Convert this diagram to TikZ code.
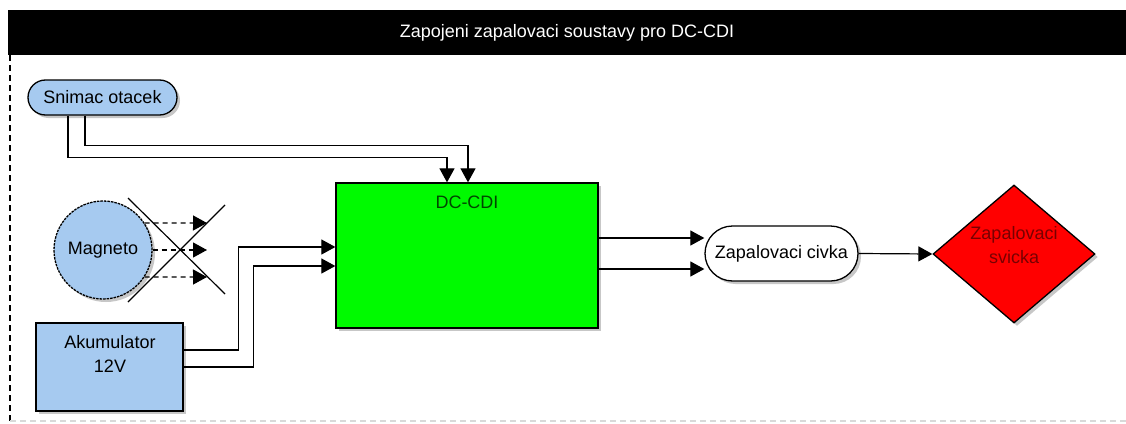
\documentclass[tikz,border=0pt]{standalone}
\usepackage{fontspec}
\setmainfont{Liberation Sans}
\usepackage{tikz}
\usetikzlibrary{arrows.meta,positioning,shapes.geometric,shapes.misc,shadows}
\usepackage{xcolor}
\definecolor{zsblue}{RGB}{166,202,240}
\definecolor{zsgreen}{RGB}{0,250,0}
\definecolor{zsred}{RGB}{255,0,0}
\definecolor{zsdkred}{RGB}{120,0,0}
\definecolor{zsdkgreen}{RGB}{0,70,0}
\tikzset{
  zsshadow/.style={drop shadow={shadow xshift=3pt, shadow yshift=-3pt, fill=black, opacity=0.22}},
  zsbox/.style={draw, rectangle, line width=1.3pt, inner sep=0pt, zsshadow},
  zspill/.style={draw, rounded rectangle, line width=1.3pt, inner sep=0pt, zsshadow},
  zsround/.style={draw, circle, line width=1.3pt, inner sep=0pt, dash pattern=on 2.5pt off 1pt, zsshadow},
  zsdiam/.style={draw, diamond, line width=1.3pt, inner sep=0pt, zsshadow},
  zstitle/.style={fill=black, text=white, inner sep=0pt},
  zslabel/.style={align=center, inner sep=0pt},
  zsarrow/.style={-{Triangle[length=14pt,width=15pt]}, line width=1.2pt},
  zsdarrow/.style={zsarrow, dash pattern=on 5pt off 4pt},
}

\begin{document}
\begin{tikzpicture}[x=1pt, y=-1pt, every node/.style={font=\fontsize{18}{24}\selectfont}]
  \useasboundingbox (0,0) rectangle (1126,423);
  % frame
  \node[zstitle, minimum width=1118pt, minimum height=45pt] (title) at (567,32.5) {Zapojeni zapalovaci soustavy pro DC-CDI};
  \draw[line width=1.5pt, dash pattern=on 6pt off 4pt] (10,55) -- (10,423);
  \draw[black!15, line width=1.5pt, dash pattern=on 6pt off 4pt] (10,421) -- (1126,421);

  % blocks
  \node[zspill, fill=zsblue, minimum width=149pt, minimum height=35pt] (sn) at (102.5,97.5) {Snimac otacek};
  \node[zsround, fill=zsblue, minimum size=98pt] (mag) at (103,250) {Magneto};
  \node[zsbox, fill=zsblue, minimum width=147pt, minimum height=88pt] (aku) at (109.5,367) {};
  \node[zslabel] (akut) at (110,354) {Akumulator\\12V};
  \node[zsbox, fill=zsgreen, minimum width=262pt, minimum height=145pt] (dc) at (467,255.5) {};
  \node[zslabel, text=zsdkgreen] (dct) at ([yshift=-20pt]dc.north) {DC-CDI};
  \node[zspill, fill=white, minimum width=153pt, minimum height=55pt] (cv) at (781.5,253.5) {Zapalovaci civka};
  \node[zsdiam, fill=zsred, minimum width=162pt, minimum height=138pt] (sv) at (1014,254) {};
  \node[zslabel, text=zsdkred] (svt) at (1014,245) {Zapalovaci\\svicka};

  % magneto (crossed out)
  \coordinate (m1) at (207,223);
  \coordinate (m2) at (207,250);
  \coordinate (m3) at (207,277);
  \draw[zsdarrow] (mag.33) -- (m1);
  \draw[zsdarrow] (mag.east) -- (m2);
  \draw[zsdarrow] (mag.-33) -- (m3);
  \draw[line width=1.2pt] (128,198) -- (225,294) (128,302) -- (225,205);

  % connections
  \draw[zsarrow] ([xshift=-34.5pt]sn.south) -- ++(0,42) -| ([xshift=-20pt]dc.north);
  \draw[zsarrow] ([xshift=-17.5pt]sn.south) -- ++(0,30) -| ([xshift=1pt]dc.north);
  \draw[zsarrow] ([yshift=17pt]aku.east) -- ++(55,0) |- ([yshift=8.5pt]dc.west);
  \draw[zsarrow] (aku.east) -- ++(70,0) |- ([yshift=-10.5pt]dc.west);
  \draw[zsarrow] ([yshift=17.5pt]dc.east) -- ([yshift=15.5pt]cv.west);
  \draw[zsarrow] ([yshift=-13.5pt]dc.east) -- ([yshift=-15.5pt]cv.west);
  \draw[zsarrow] (cv.east) -- (sv.west);
\end{tikzpicture}
\end{document}
